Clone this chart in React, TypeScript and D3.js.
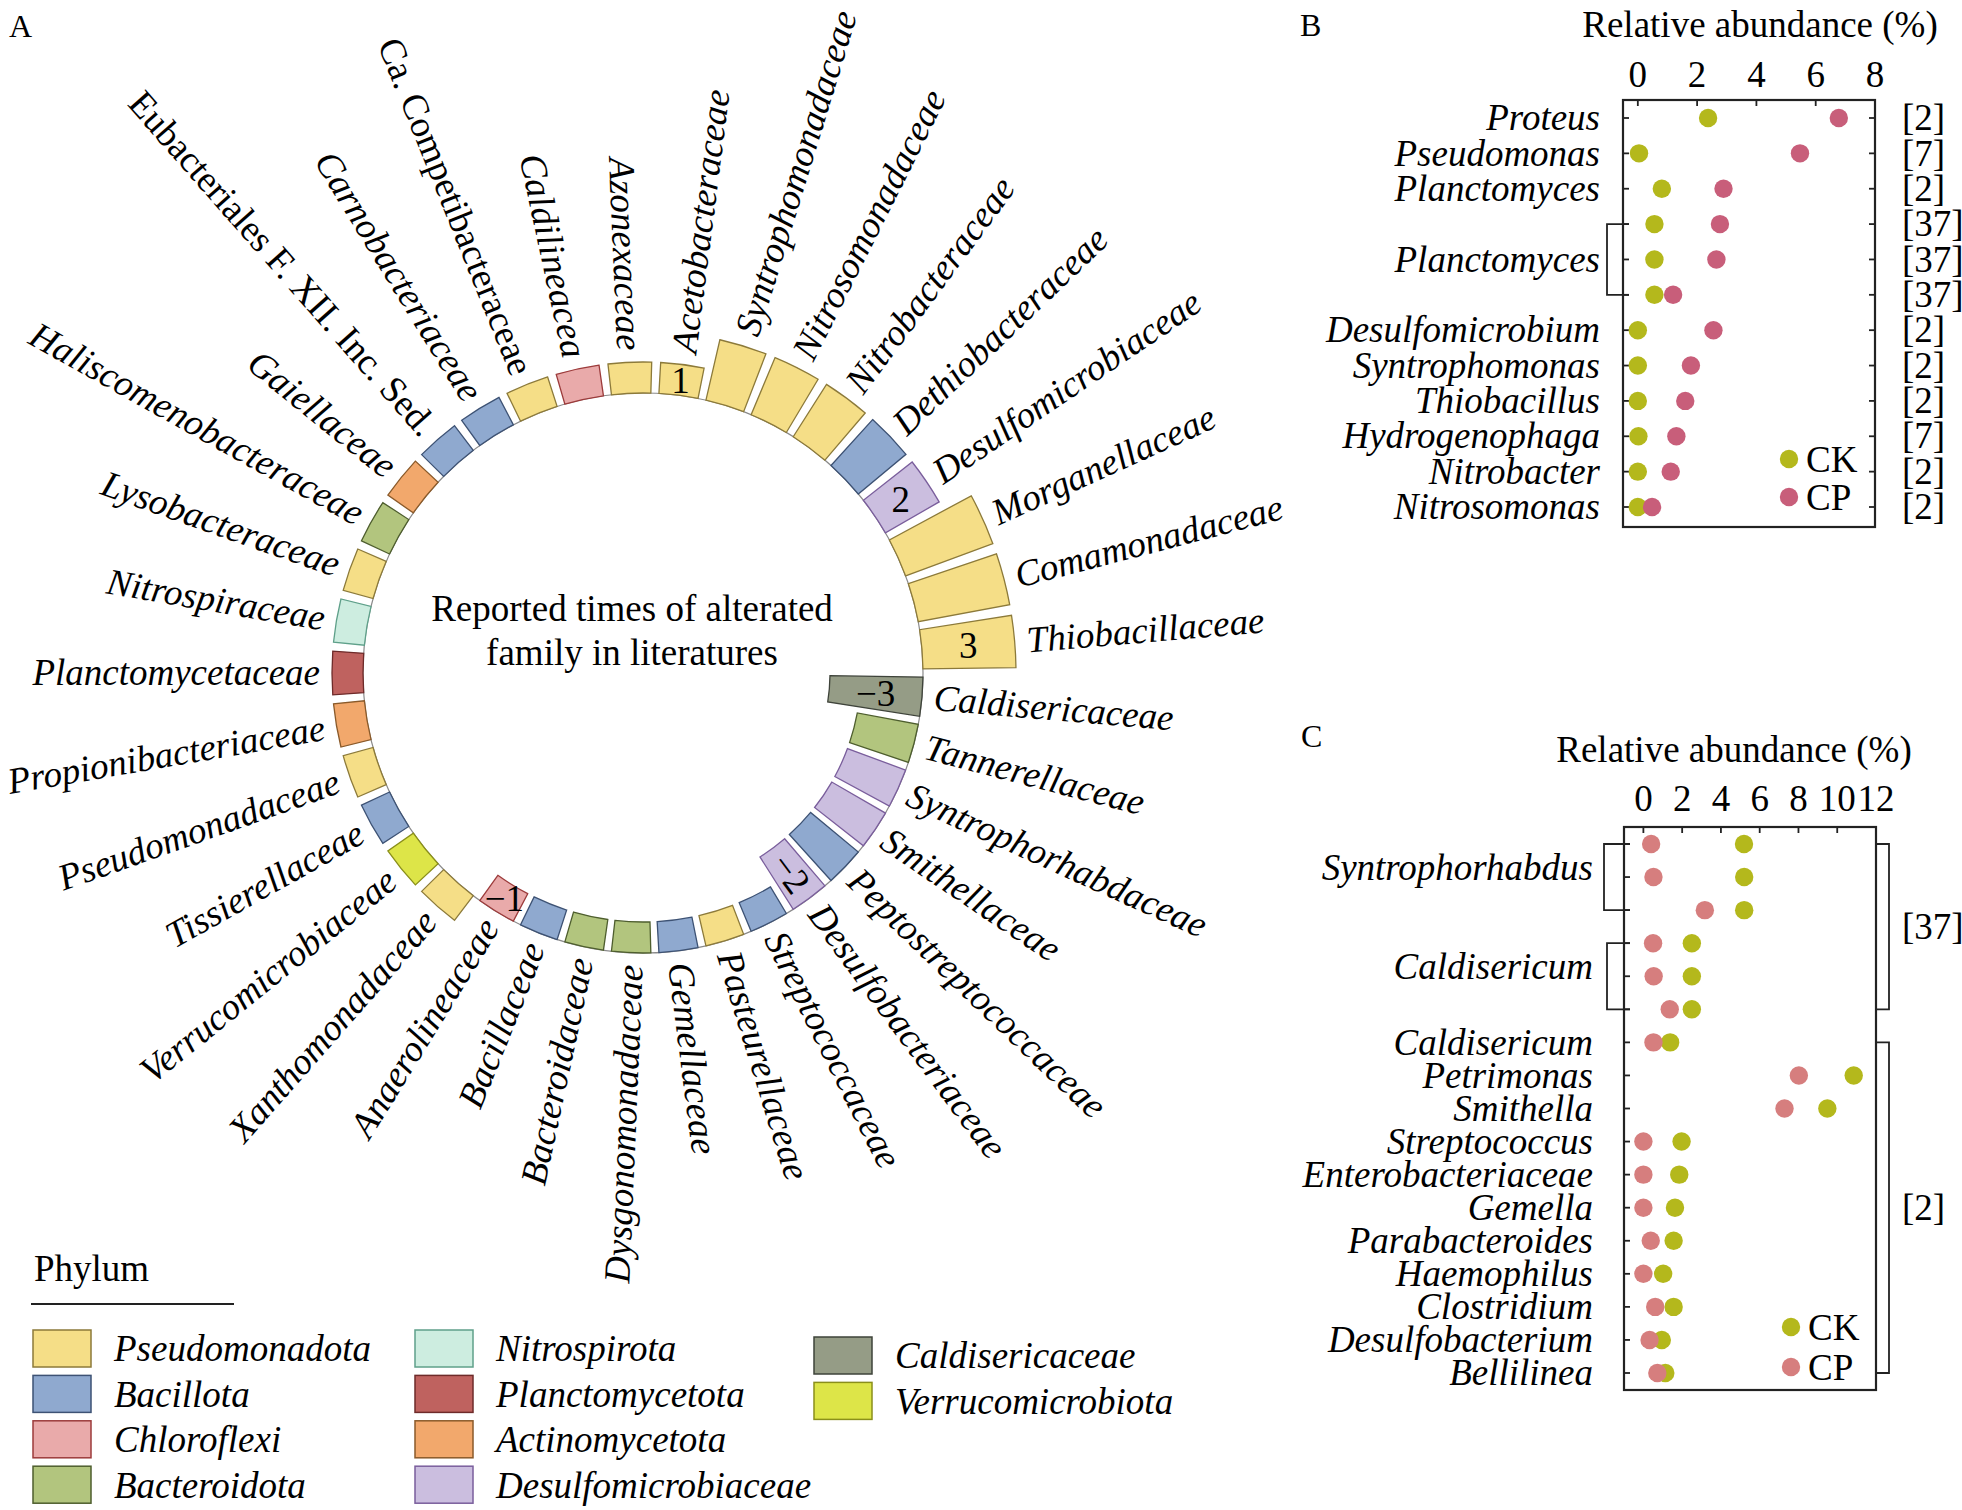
import * as d3 from "d3";

// ---- Panel A data: families around the circle (clockwise), reported times, phylum ----
const families = [
  "Xanthomonadaceae", "Verrucomicrobiaceae", "Tissierellaceae", "Pseudomonadaceae",
  "Propionibacteriaceae", "Planctomycetaceae", "Nitrospiraceae", "Lysobacteraceae",
  "Haliscomenobacteraceae", "Gaiellaceae", "Eubacteriales F. XII. Inc. Sed.",
  "Carnobacteriaceae", "Ca. Competibacteraceae", "Caldilineacea", "Azonexaceae",
  "Acetobacteraceae", "Syntrophomonadaceae", "Nitrosomonadaceae", "Nitrobacteraceae",
  "Dethiobacteraceae", "Desulfomicrobiaceae", "Morganellaceae", "Comamonadaceae",
  "Thiobacillaceae", "Caldisericaceae", "Tannerellaceae", "Syntrophorhabdaceae",
  "Smithellaceae", "Peptostreptococcaceae", "Desulfobacteriaceae", "Streptococcaceae",
  "Pasteurellaceae", "Gemellaceae", "Dysgonomonadaceae", "Bacteroidaceae",
  "Bacillaceae", "Anaerolineaceae",
];
const reportedTimes = [
  1, 1, 1, 1, 1, 1, 1, 1, 1, 1, 1, 1, 1, 1, 1, 1,
  2, 2, 2, 2, 2,
  3, 3, 3,
  -3,
  -2, -2, -2, -2, -2,
  -1, -1, -1, -1, -1, -1, -1,
];
const familyPhylum = [
  "Pseudomonadota", "Verrucomicrobiota", "Bacillota", "Pseudomonadota",
  "Actinomycetota", "Planctomycetota", "Nitrospirota", "Pseudomonadota",
  "Bacteroidota", "Actinomycetota", "Bacillota", "Bacillota", "Pseudomonadota",
  "Chloroflexi", "Pseudomonadota", "Pseudomonadota", "Pseudomonadota",
  "Pseudomonadota", "Pseudomonadota", "Bacillota", "Desulfomicrobiaceae",
  "Pseudomonadota", "Pseudomonadota", "Pseudomonadota", "Caldisericaceae",
  "Bacteroidota", "Desulfomicrobiaceae", "Desulfomicrobiaceae", "Bacillota",
  "Desulfomicrobiaceae", "Bacillota", "Pseudomonadota", "Bacillota",
  "Bacteroidota", "Bacteroidota", "Bacillota", "Chloroflexi",
];
const labelledFamilies = [
  "Acetobacteraceae", "Desulfomicrobiaceae", "Thiobacillaceae",
  "Caldisericaceae", "Desulfobacteriaceae", "Anaerolineaceae",
];
const tiltedValueLabels = ["Desulfobacteriaceae"];
const uprightNames = ["Eubacteriales F. XII. Inc. Sed.", "Ca. Competibacteraceae"];

const phyla = [
  "Pseudomonadota", "Bacillota", "Chloroflexi", "Bacteroidota",
  "Nitrospirota", "Planctomycetota", "Actinomycetota", "Desulfomicrobiaceae",
  "Caldisericaceae", "Verrucomicrobiota",
];
const phylumFill = [
  "#f5de87", "#8fa9cf", "#e9aaaa", "#b2c57e",
  "#cdede0", "#bf625f", "#f2a86c", "#cbbedf",
  "#959c86", "#dde548",
];
const phylumStroke = [
  "#8c7a3a", "#3d5274", "#9c3b3b", "#4e5e2e",
  "#5fa08a", "#6e2b2a", "#8a5a2a", "#7a5e9c",
  "#3e433a", "#8a8f1a",
];

// ---- Panel B data ----
const rowLabelsB = [
  "Proteus", "Pseudomonas", "Planctomyces", "", "Planctomyces", "",
  "Desulfomicrobium", "Syntrophomonas", "Thiobacillus", "Hydrogenophaga",
  "Nitrobacter", "Nitrosomonas",
];
const ckB = [2.37, 0.04, 0.81, 0.56, 0.56, 0.56, 0, 0, 0, 0.02, 0, 0];
const cpB = [6.78, 5.47, 2.89, 2.77, 2.65, 1.19, 2.55, 1.79, 1.6, 1.3, 1.11, 0.48];
const refsB = ["[2]", "[7]", "[2]", "[37]", "[37]", "[37]", "[2]", "[2]", "[2]", "[7]", "[2]", "[2]"];
const ticksB = [0, 2, 4, 6, 8];
const bracketsB = [[3, 5]];

// ---- Panel C data ----
const rowLabelsC = [
  "", "Syntrophorhabdus", "", "", "Caldisericum", "", "Caldisericum",
  "Petrimonas", "Smithella", "Streptococcus", "Enterobacteriaceae", "Gemella",
  "Parabacteroides", "Haemophilus", "Clostridium", "Desulfobacterium", "Bellilinea",
];
const ckC = [5.19, 5.2, 5.2, 2.5, 2.5, 2.5, 1.38, 10.85, 9.49, 1.97, 1.85, 1.63, 1.56, 1.02, 1.56, 0.95, 1.13];
const cpC = [0.4, 0.52, 3.17, 0.5, 0.53, 1.36, 0.52, 8.02, 7.28, 0, 0, 0, 0.38, 0, 0.61, 0.32, 0.72];
const ticksC = [0, 2, 4, 6, 8, 10, 12];
const bracketsC = [[0, 2], [3, 5]];
const refGroupsC = [
  { from: 0, to: 5, label: "[37]" },
  { from: 6, to: 16, label: "[2]" },
];

const FONT = "'Liberation Serif', 'Times New Roman', serif";
const FS = 37;
const CK_COLOR = "#b4b81c";
const DOT_R = 9.2;

function CircularBars() {
  const cx = 643;
  const cy = 673;
  const n = families.length;
  const step = (2 * Math.PI) / n;
  const a0 = -Math.PI / 2 - 5.5 * step;
  const angle = d3
    .scaleBand<string>()
    .domain(families)
    .range([a0, a0 + 2 * Math.PI])
    .paddingInner(0.17)
    .paddingOuter(0.085);
  const radius = d3.scaleLinear().domain([0, 3]).range([280, 373]);
  const bw = angle.bandwidth();
  const color = d3.scaleOrdinal<string, string>().domain(phyla).range(phylumFill);
  const stroke = d3.scaleOrdinal<string, string>().domain(phyla).range(phylumStroke);

  const arcGen = d3.arc<any>();

  return (
    <g transform={`translate(${cx},${cy})`}>
      <circle r={radius(0)} fill="none" stroke="#8a8a8a" strokeWidth={1.2} />
      {families.map((f, i) => {
        const v = reportedTimes[i];
        const s = angle(f)!;
        const d = arcGen({
          innerRadius: Math.min(radius(0), radius(v)),
          outerRadius: Math.max(radius(0), radius(v)),
          startAngle: s,
          endAngle: s + bw,
        });
        return (
          <path
            key={f}
            d={d || ""}
            fill={color(familyPhylum[i])}
            stroke={stroke(familyPhylum[i])}
            strokeWidth={1.3}
          />
        );
      })}
      {families.map((f, i) => {
        const v = reportedTimes[i];
        const mid = angle(f)! + bw / 2;
        const deg = (mid * 180) / Math.PI;
        const norm = ((deg % 360) + 360) % 360;
        const right = norm > 0 && norm < 180;
        const r = Math.max(radius(0), radius(v)) + 12;
        return (
          <text
            key={f}
            transform={`rotate(${deg - 90}) translate(${r},0)${right ? "" : " rotate(180)"}`}
            textAnchor={right ? "start" : "end"}
            dy="0.33em"
            fontFamily={FONT}
            fontSize={FS}
            fontStyle={uprightNames.includes(f) ? "normal" : "italic"}
          >
            {f}
          </text>
        );
      })}
      {families.map((f, i) => {
        if (!labelledFamilies.includes(f)) return null;
        const v = reportedTimes[i];
        const mid = angle(f)! + bw / 2;
        const rm = (radius(0) + radius(v)) / 2;
        const x = rm * Math.sin(mid);
        const y = -rm * Math.cos(mid);
        const rot = tiltedValueLabels.includes(f) ? (mid * 180) / Math.PI - 90 : 0;
        const txt = v < 0 ? `\u2212${Math.abs(v)}` : `${v}`;
        return (
          <text
            key={"v" + f}
            transform={`translate(${x},${y}) rotate(${rot})`}
            textAnchor="middle"
            dy="0.35em"
            fontFamily={FONT}
            fontSize={FS}
          >
            {txt}
          </text>
        );
      })}
      <text x={-11} y={-52} textAnchor="middle" fontFamily={FONT} fontSize={FS}>
        Reported times of alterated
      </text>
      <text x={-11} y={-8} textAnchor="middle" fontFamily={FONT} fontSize={FS}>
        family in literatures
      </text>
    </g>
  );
}

function PhylumLegend() {
  const col = [0, 0, 0, 0, 1, 1, 1, 1, 2, 2];
  const row = [0, 1, 2, 3, 0, 1, 2, 3, 0, 1];
  const colX = [33, 415, 814];
  const colY0 = [1330, 1330, 1337];
  return (
    <g>
      <text x={34} y={1281} fontFamily={FONT} fontSize={FS}>
        Phylum
      </text>
      <line x1={31} x2={234} y1={1304} y2={1304} stroke="#222" strokeWidth={2} />
      {phyla.map((p, i) => {
        const x = colX[col[i]];
        const y = colY0[col[i]] + row[i] * 45.4;
        return (
          <g key={p}>
            <rect x={x} y={y} width={58} height={37} fill={phylumFill[i]} stroke={phylumStroke[i]} strokeWidth={1.5} />
            <text x={x + 81} y={y + 18.5} dy="0.35em" fontFamily={FONT} fontSize={FS} fontStyle="italic">
              {p}
            </text>
          </g>
        );
      })}
    </g>
  );
}

type DotPanelProps = {
  frame: [number, number, number, number];
  rowRange: [number, number];
  domain: [number, number];
  ticks: number[];
  tickBaseline: number;
  rowLabels: string[];
  labelX: number;
  ck: number[];
  cp: number[];
  cpColor: string;
  brackets: number[][];
  bracketX: number[];
  bracketLabelShift: number;
  rightTicks: boolean;
  refs?: string[];
  refGroups?: { from: number; to: number; label: string }[];
  refX: number;
  title: [number, number];
  legend: [number, number, number];
};

function DotPanel(p: DotPanelProps) {
  const [x0, y0, x1, y1] = p.frame;
  const x = d3.scaleLinear().domain(p.domain).range([x0, x1]);
  const y = d3
    .scalePoint<number>()
    .domain(d3.range(p.rowLabels.length))
    .range(p.rowRange);
  const tk = 6;
  const bracketMids = p.brackets.map(([a, b]) => Math.round((a + b) / 2));
  return (
    <g fontFamily={FONT} fontSize={FS}>
      <text x={p.title[0]} y={p.title[1]} textAnchor="middle">
        Relative abundance (%)
      </text>
      {p.ticks.map((t) => (
        <g key={t}>
          <text x={x(t)} y={p.tickBaseline} textAnchor="middle">
            {t}
          </text>
          <line x1={x(t)} x2={x(t)} y1={y0} y2={y0 + tk} stroke="#222" strokeWidth={1.8} />
        </g>
      ))}
      {p.rowLabels.map((l, i) => (
        <g key={i}>
          <line x1={x0} x2={x0 + tk} y1={y(i)} y2={y(i)} stroke="#222" strokeWidth={1.8} />
          {p.rightTicks && (
            <line x1={x1 - tk} x2={x1} y1={y(i)} y2={y(i)} stroke="#222" strokeWidth={1.8} />
          )}
          {l && (
            <text
              x={p.labelX}
              y={y(i)! - (bracketMids.includes(i) ? p.bracketLabelShift : 0)}
              dy="0.33em"
              textAnchor="end"
              fontStyle="italic"
            >
              {l}
            </text>
          )}
          {p.refs && (
            <text x={p.refX} y={y(i)} dy="0.33em">
              {p.refs[i]}
            </text>
          )}
        </g>
      ))}
      {p.brackets.map(([a, b], k) => (
        <path
          key={k}
          d={`M${x0 + tk},${y(a)}H${p.bracketX[k]}V${y(b)}H${x0 + tk}`}
          fill="none"
          stroke="#222"
          strokeWidth={1.8}
        />
      ))}
      {p.refGroups &&
        p.refGroups.map((g) => (
          <g key={g.label}>
            <path
              d={`M${x1},${y(g.from)}H${x1 + 13}V${y(g.to)}H${x1}`}
              fill="none"
              stroke="#222"
              strokeWidth={1.8}
            />
            <text x={p.refX} y={(y(g.from)! + y(g.to)!) / 2} dy="0.33em">
              {g.label}
            </text>
          </g>
        ))}
      {p.ck.map((v, i) => (
        <circle key={"ck" + i} cx={x(v)} cy={y(i)} r={DOT_R} fill={CK_COLOR} />
      ))}
      {p.cp.map((v, i) => (
        <circle key={"cp" + i} cx={x(v)} cy={y(i)} r={DOT_R} fill={p.cpColor} />
      ))}
      <rect x={x0} y={y0} width={x1 - x0} height={y1 - y0} fill="none" stroke="#222" strokeWidth={2.2} />
      <circle cx={p.legend[0]} cy={p.legend[1]} r={DOT_R} fill={CK_COLOR} />
      <circle cx={p.legend[0]} cy={p.legend[2]} r={DOT_R} fill={p.cpColor} />
      <text x={p.legend[0] + 17} y={p.legend[1]} dy="0.35em">
        CK
      </text>
      <text x={p.legend[0] + 17} y={p.legend[2]} dy="0.35em">
        CP
      </text>
    </g>
  );
}

export default function App() {
  return (
    <svg
      width={1962}
      height={1510}
      viewBox="0 0 1962 1510"
      style={{ position: "absolute", left: 0, top: 0, background: "#fff" }}
    >
      <rect width={1962} height={1510} fill="#fff" />
      <text x={9} y={37} fontFamily={FONT} fontSize={32}>A</text>
      <text x={1300} y={36} fontFamily={FONT} fontSize={32}>B</text>
      <text x={1301} y={747} fontFamily={FONT} fontSize={32}>C</text>
      <CircularBars />
      <PhylumLegend />
      <DotPanel
        frame={[1623, 100, 1875, 527]}
        rowRange={[118, 507]}
        domain={[-0.5, 8]}
        ticks={ticksB}
        tickBaseline={87}
        rowLabels={rowLabelsB}
        labelX={1600}
        ck={ckB}
        cp={cpB}
        cpColor="#c85e7a"
        brackets={bracketsB}
        bracketX={[1607]}
        bracketLabelShift={0}
        rightTicks={true}
        refs={refsB}
        refX={1902}
        title={[1760, 37]}
        legend={[1789, 459, 497]}
      />
      <DotPanel
        frame={[1624, 827, 1876, 1390]}
        rowRange={[844, 1373]}
        domain={[-1, 12]}
        ticks={ticksC}
        tickBaseline={811}
        rowLabels={rowLabelsC}
        labelX={1593}
        ck={ckC}
        cp={cpC}
        cpColor="#d67e7e"
        brackets={bracketsC}
        bracketX={[1604, 1607]}
        bracketLabelShift={9}
        rightTicks={false}
        refGroups={refGroupsC}
        refX={1902}
        title={[1734, 762]}
        legend={[1791, 1327, 1367]}
      />
    </svg>
  );
}
